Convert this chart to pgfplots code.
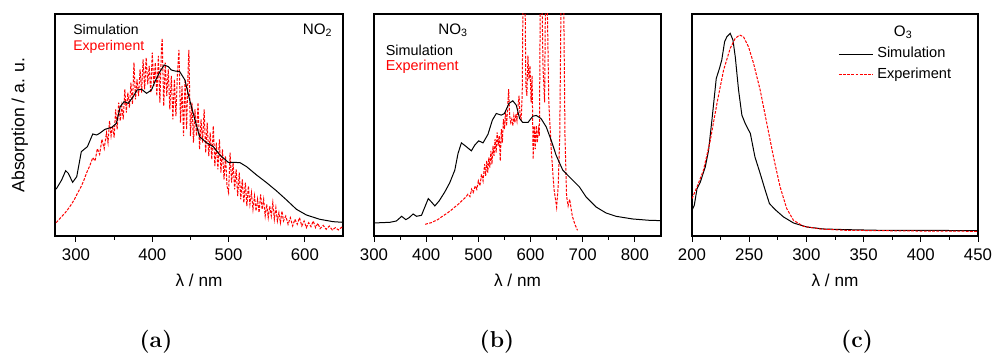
\documentclass[border=0pt]{standalone}
\usepackage{fontspec}
\setsansfont{Liberation Sans}
\usepackage{pgfplots}
\pgfplotsset{compat=1.18}
\tikzset{txt/.style={font=\sffamily\fontsize{7.2}{9}\selectfont, inner sep=0pt}}
\begin{document}
\begin{tikzpicture}
\useasboundingbox (0pt,0pt) rectangle (497.5pt,178pt);
\pgfplotsset{
 panel/.style={scale only axis, width=144pt, height=111pt, anchor=south west,
   axis line style={line width=0.6pt}, every tick/.style={black, line width=0.5pt},
   tick align=outside, xtick pos=left, ytick=\empty, minor x tick num=1,
   major tick length=3pt, minor tick length=2pt,
   ticklabel style={font=\sffamily\fontsize{8.4}{10}\selectfont},
   /pgf/number format/assume math mode=true,
   xlabel={λ / nm},
   xlabel style={font=\sffamily\fontsize{8.6}{10}\selectfont, at={(axis description cs:0.5,-0.2)}, anchor=center},
   ymin=0, ymax=666, clip=true},
 sim/.style={black, line width=0.5pt, no marks},
 exp/.style={red, line width=0.5pt, dash pattern=on 1.4pt off 0.7pt, no marks},
}
% ---------------- (a) NO2 ----------------
\begin{axis}[panel, at={(27.5pt,60pt)}, xmin=272.5, xmax=650, xtick={300,400,500,600},
  ylabel={Absorption / a. u.},
  ylabel style={font=\sffamily\fontsize{8.8}{10}\selectfont, at={(axis description cs:-0.122,0.5)}, anchor=center}]
\addplot[exp] coordinates {
(274,40)(278,50)(282,60)(286,70)(290,82)(294,95)(298,110)(302,128)(306,145)(310,165)(314,190)(318,210)
(322,235)(325,225)(328,262)(331,245)(334,290)(337,262)(340,310)(342,280)(344,345)(346,300)(348,330)(350,295)
(352,380)(354,320)(356,400)(358,345)(360,390)(362,350)(364,440)(366,370)(368,430)(370,385)(372,460)(374,395)
(376,520)(378,410)(380,470)(382,420)(384,500)(386,430)(388,530)(390,440)(392,535)(394,455)(396,510)(398,430)
(400,550)(402,450)(404,520)(406,420)(408,540)(410,400)(412,560)(413,593)(415,390)(417,520)(419,420)(421,500)
(423,380)(425,480)(427,350)(429,470)(431,360)(433,490)(435,558)(437,340)(439,450)(441,300)(443,470)(445,320)
(447,500)(448,558)(450,300)(452,400)(454,280)(456,380)(458,300)(460,400)(462,260)(464,350)(466,280)(468,380)
(470,250)(472,340)(474,240)(476,310)(478,230)(480,330)(482,210)(484,280)(486,200)(488,290)(490,190)(492,260)
(494,170)(496,240)(498,150)(500,130)(502,250)(504,160)(506,220)(508,140)(510,200)(512,120)(514,190)(516,110)
(518,170)(520,100)(522,160)(524,90)(526,150)(528,95)(530,130)(532,80)(534,120)(536,75)(538,110)(540,70)
(542,125)(544,80)(546,110)(548,60)(550,95)(552,55)(554,90)(556,60)(558,100)(560,50)(562,85)(564,45)
(566,70)(568,40)(570,75)(572,45)(575,60)(578,35)(581,55)(584,30)(587,50)(590,35)(593,55)(596,30)
(599,45)(602,25)(605,40)(608,28)(611,45)(614,25)(617,38)(620,22)(624,32)(628,20)(632,30)(636,18)
(640,25)(644,18)(648,26)(650,22)};
\addplot[sim] coordinates {
(272.5,138)(274.7,143)(281.2,168)(286.5,196)(290,188)(295.6,161)(301,178)(307,253)(315,268)(322,306)(327,303)
(331,308)(338,320)(347,326)(353,338)(358,388)(363,403)(368.6,398)(375,418)(380,438)(386,440)(392.6,428)
(399,438)(403.5,463)(410,493)(415.7,513)(421,508)(425,498)(429.7,495)(436,493)(442.8,468)(449,408)(456,348)
(462,298)(471,280)(480,268)(488.6,243)(499.6,221)(506,221)(515,220)(523.6,208)(536.7,183)(549.8,160)
(563,135)(576,108)(589,80)(602,63)(619.7,50)(637,43)(650,41)};
\node[txt, anchor=west, font=\sffamily\fontsize{7}{9}\selectfont] at (rel axis cs:0.0625,0.928) {Simulation};
\node[txt, anchor=west, text=red, font=\sffamily\fontsize{7}{9}\selectfont] at (rel axis cs:0.0625,0.851) {Experiment};
\node[txt, anchor=east, font=\sffamily\fontsize{7.6}{9}\selectfont] at (rel axis cs:0.965,0.928) {NO\textsubscript{2}};
\end{axis}
% ---------------- (b) NO3 ----------------
\begin{axis}[panel, at={(187pt,60pt)}, width=143.5pt, xmin=300, xmax=850, xtick={300,400,...,800}, ymax=665]
\addplot[exp] coordinates {
(398,35)(405,38)(410,40)(415,44)(420,47)(425,52)(430,58)(435,63)(440,68)(445,74)(450,80)(455,87)(460,93)
(465,100)(470,108)(475,115)(480,125)(484,118)(487,140)(490,130)(494,150)(497,140)(500,165)(503,150)(506,185)
(509,165)(512,215)(514,180)(516,225)(518,190)(520,235)(522,205)(524,255)(526,215)(528,270)(530,240)(532,290)
(534,250)(536,310)(538,270)(540,300)(542,225)(544,320)(546,280)(548,350)(550,320)(552,370)(554,330)(556,380)
(558,440)(560,360)(562,340)(564,350)(566,330)(568,360)(570,340)(572,365)(574,345)(576,390)(578,420)(580,360)
(582,350)(584,420)(586,800)(589,800)(591,450)(593,420)(595,540)(597,470)(599,510)(601,400)(603,480)(605,230)
(607,330)(609,260)(611,330)(613,280)(615,320)(617,300)(619,800)(621,800)(624,500)(627,400)(629,800)(631,800)
(635,400)(640,250)(645,140)(650,86)(653,150)(656,300)(659,800)(663,800)(666,300)(669,120)(672,90)(675,110)
(680,60)(685,35)(690,17)};
\addplot[sim] coordinates {
(300,39)(330.6,41)(343,45)(353,59)(361,49)(367.5,55)(375,66)(381.5,59)(391,62)(397.5,87)(404,112)(410,102)
(416.6,90)(424.8,105)(435.7,132)(445,159)(454.8,197)(461,247)(467.5,279)(475.8,269)(486.6,255)(493,272)
(500.6,285)(509,279)(518.5,305)(526.8,347)(534.4,367)(544,362)(550,367)(558.6,397)(566,405)(572.6,392)
(579,352)(585,340)(595,340)(604.5,359)(611,361)(620,352)(630,327)(639.5,287)(649,242)(661.8,197)(677.7,172)
(693.6,147)(706.4,117)(725.5,87)(744.6,69)(763.7,59)(795.5,51)(827.4,47)(850,46)};
\node[txt, anchor=west, font=\sffamily\fontsize{7.6}{9}\selectfont] at (rel axis cs:0.223,0.925) {NO\textsubscript{3}};
\node[txt, anchor=west] at (rel axis cs:0.04,0.838) {Simulation};
\node[txt, anchor=west, text=red] at (rel axis cs:0.04,0.763) {Experiment};
\end{axis}
% ---------------- (c) O3 ----------------
\begin{axis}[panel, at={(346pt,60pt)}, width=143pt, xmin=200, xmax=450, xtick={200,250,...,450}, ymax=665,
  legend style={draw=none, fill=none, at={(rel axis cs:0.51,0.87)}, anchor=north west,
    font=\sffamily\fontsize{7.3}{9}\selectfont, row sep=-0.5pt, inner sep=0pt},
  legend cell align=left,
  legend image code/.code={\draw[#1] (0pt,0pt) -- (17pt,0pt);}]
\addplot[sim] coordinates {
(200,77)(202,92)(204.4,142)(207.3,162)(211.6,207)(214.5,257)(217.4,347)(221.2,472)(224,502)(226,527)
(228.5,582)(230.5,597)(233.4,607)(235.8,587)(237.8,537)(240.7,437)(243.6,362)(246.5,337)(251,307)(255,237)
(259.6,187)(264,137)(267.7,97)(272.7,79)(280,57)(288.7,39)(300.3,27)(314.8,21)(335,19)(364,17)(393,17)(450,16)};
\addlegendentry{Simulation}
\addplot[exp] coordinates {
(200,112)(204.4,147)(210,197)(216,287)(221.8,397)(227.6,497)(233.4,562)(237.8,592)(241.6,602)(245,597)
(249.4,567)(253.8,517)(259.6,437)(265.4,337)(271.2,237)(277,147)(282.8,82)(288.7,47)(297.4,29)(312,21)
(335,17)(393,15)(450,14)};
\addlegendentry{Experiment}
\node[txt, anchor=center, font=\sffamily\fontsize{7.6}{9}\selectfont] at (rel axis cs:0.739,0.92) {O\textsubscript{3}};
\end{axis}
\node[font=\bfseries\fontsize{11.5}{12}\selectfont] at (78pt,7pt) {(a)};
\node[font=\bfseries\fontsize{11.5}{12}\selectfont] at (248.5pt,7pt) {(b)};
\node[font=\bfseries\fontsize{11.5}{12}\selectfont] at (428.5pt,7pt) {(c)};
\end{tikzpicture}
\end{document}
